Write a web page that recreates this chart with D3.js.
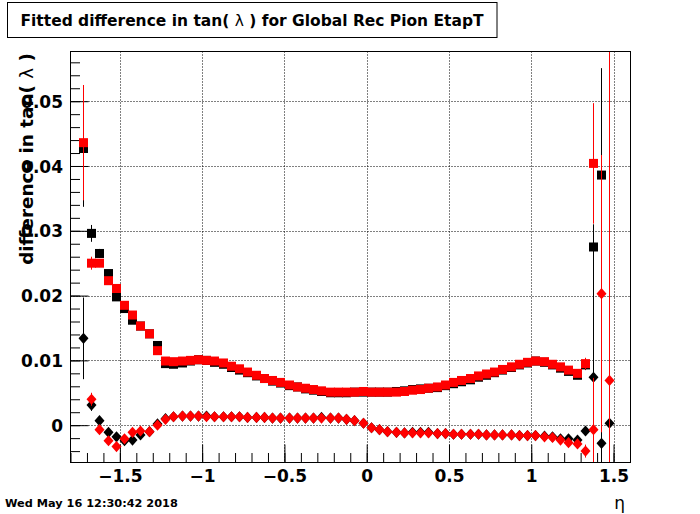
<!DOCTYPE html>
<html>
<head>
<meta charset="utf-8">
<script src="https://cdn.jsdelivr.net/npm/d3@7"></script>
<style>
  body { margin: 0; background: #fff; }
  svg { display: block; }
  text { font-family: "DejaVu Sans", sans-serif; }
</style>
</head>
<body>
<div id="chart"></div>
<script>
// bin centres: 65 bins of width 0.05 between -1.75 and 1.5
const etaBins = [
  -1.725, -1.675, -1.625, -1.575, -1.525, -1.475, -1.425, -1.375, -1.325, -1.275,
  -1.225, -1.175, -1.125, -1.075, -1.025, -0.975, -0.925, -0.875, -0.825, -0.775,
  -0.725, -0.675, -0.625, -0.575, -0.525, -0.475, -0.425, -0.375, -0.325, -0.275,
  -0.225, -0.175, -0.125, -0.075, -0.025, 0.025, 0.075, 0.125, 0.175, 0.225,
  0.275, 0.325, 0.375, 0.425, 0.475, 0.525, 0.575, 0.625, 0.675, 0.725,
  0.775, 0.825, 0.875, 0.925, 0.975, 1.025, 1.075, 1.125, 1.175, 1.225,
  1.275, 1.325, 1.375, 1.425, 1.475
];

const blackSquares = [
  0.0427, 0.0296, 0.0265, 0.0234, 0.0198, 0.0180, 0.0162, 0.0153, 0.0141, 0.0123,
  0.0095, 0.0094, 0.0096, 0.0099, 0.0101, 0.0100, 0.0097, 0.0094, 0.0089, 0.0085,
  0.0081, 0.0076, 0.0072, 0.0068, 0.0065, 0.0061, 0.0059, 0.0056, 0.0054, 0.0052,
  0.0050, 0.0050, 0.0050, 0.0051, 0.0051, 0.0051, 0.0051, 0.0051, 0.0052, 0.0053,
  0.0055, 0.0056, 0.0057, 0.0058, 0.0061, 0.0064, 0.0067, 0.0070, 0.0074, 0.0077,
  0.0081, 0.0085, 0.0089, 0.0093, 0.0096, 0.0099, 0.0097, 0.0093, 0.0088, 0.0083,
  0.0077, 0.0093, 0.0275, 0.0386, null
];
const blackSquaresErr = [
  0.0090, 0.0013, 0.0007, 0.0005, 0.0004, 0.0004, 0.0003, 0.0003, 0.0003, 0.0003,
  0.0003, 0.0003, 0.0003, 0.0003, 0.0003, 0.0003, 0.0003, 0.0003, 0.0003, 0.0003,
  0.0003, 0.0003, 0.0003, 0.0003, 0.0003, 0.0003, 0.0003, 0.0003, 0.0003, 0.0003,
  0.0003, 0.0003, 0.0003, 0.0003, 0.0003, 0.0003, 0.0003, 0.0003, 0.0003, 0.0003,
  0.0003, 0.0003, 0.0003, 0.0003, 0.0003, 0.0003, 0.0003, 0.0003, 0.0003, 0.0003,
  0.0003, 0.0003, 0.0003, 0.0003, 0.0003, 0.0003, 0.0003, 0.0003, 0.0003, 0.0004,
  0.0004, 0.0008, 0.0034, 0.0165, 0
];

const redSquares = [
  0.0436, 0.0250, 0.0250, 0.0223, 0.0211, 0.0185, 0.0170, 0.0153, 0.0141, 0.0115,
  0.0099, 0.0098, 0.0099, 0.0100, 0.0101, 0.0100, 0.0099, 0.0096, 0.0091, 0.0087,
  0.0082, 0.0077, 0.0072, 0.0069, 0.0066, 0.0062, 0.0059, 0.0057, 0.0055, 0.0053,
  0.0051, 0.0051, 0.0051, 0.0051, 0.0052, 0.0051, 0.0051, 0.0051, 0.0051, 0.0052,
  0.0054, 0.0055, 0.0057, 0.0059, 0.0062, 0.0066, 0.0069, 0.0072, 0.0076, 0.0079,
  0.0082, 0.0086, 0.0090, 0.0094, 0.0097, 0.0099, 0.0098, 0.0094, 0.0090, 0.0085,
  0.0080, 0.0095, 0.0404, null, null
];
const redSquaresErr = [
  0.0089, 0.0010, 0.0006, 0.0005, 0.0004, 0.0004, 0.0003, 0.0003, 0.0003, 0.0003,
  0.0003, 0.0003, 0.0003, 0.0003, 0.0003, 0.0003, 0.0003, 0.0003, 0.0003, 0.0003,
  0.0003, 0.0003, 0.0003, 0.0003, 0.0003, 0.0003, 0.0003, 0.0003, 0.0003, 0.0003,
  0.0003, 0.0003, 0.0003, 0.0003, 0.0003, 0.0003, 0.0003, 0.0003, 0.0003, 0.0003,
  0.0003, 0.0003, 0.0003, 0.0003, 0.0003, 0.0003, 0.0003, 0.0003, 0.0003, 0.0003,
  0.0003, 0.0003, 0.0003, 0.0003, 0.0003, 0.0003, 0.0003, 0.0003, 0.0003, 0.0004,
  0.0004, 0.0009, 0.0093, 0, 0
];

const blackDiamonds = [
  0.0134, 0.0031, 0.0007, -0.0011, -0.0018, -0.0024, -0.0023, -0.0015, -0.0010, 0.0002,
  0.0010, 0.0013, 0.0014, 0.0014, 0.0014, 0.0014, 0.0013, 0.0013, 0.0013, 0.0013,
  0.0012, 0.0012, 0.0012, 0.0011, 0.0011, 0.0011, 0.0011, 0.0011, 0.0011, 0.0012,
  0.0011, 0.0011, 0.0009, 0.0007, 0.0003, -0.0004, -0.0007, -0.0010, -0.0011, -0.0012,
  -0.0011, -0.0011, -0.0011, -0.0013, -0.0013, -0.0014, -0.0014, -0.0014, -0.0014, -0.0015,
  -0.0015, -0.0015, -0.0015, -0.0016, -0.0016, -0.0016, -0.0017, -0.0018, -0.0021, -0.0021,
  -0.0023, -0.0009, 0.0074, -0.0028, 0.0003
];
const blackDiamondsErr = [
  0.0063, 0.0009, 0.0004, 0.0003, 0.0003, 0.0003, 0.0002, 0.0002, 0.0002, 0.0002,
  0.0002, 0.0002, 0.0002, 0.0002, 0.0002, 0.0002, 0.0002, 0.0002, 0.0002, 0.0002,
  0.0002, 0.0002, 0.0002, 0.0002, 0.0002, 0.0002, 0.0002, 0.0002, 0.0002, 0.0002,
  0.0002, 0.0002, 0.0002, 0.0002, 0.0002, 0.0002, 0.0002, 0.0002, 0.0002, 0.0002,
  0.0002, 0.0002, 0.0002, 0.0002, 0.0002, 0.0002, 0.0002, 0.0002, 0.0002, 0.0002,
  0.0002, 0.0002, 0.0002, 0.0002, 0.0002, 0.0002, 0.0002, 0.0002, 0.0002, 0.0003,
  0.0003, 0.0005, 0.0236, 0.0060, 0.0015
];

const redDiamonds = [
  null, 0.0040, -0.0007, -0.0024, -0.0033, -0.0021, -0.0011, -0.0009, -0.0010, 0.0000,
  0.0009, 0.0013, 0.0014, 0.0014, 0.0014, 0.0013, 0.0013, 0.0013, 0.0013, 0.0013,
  0.0012, 0.0012, 0.0012, 0.0011, 0.0011, 0.0011, 0.0011, 0.0011, 0.0011, 0.0011,
  0.0011, 0.0011, 0.0009, 0.0007, 0.0003, -0.0004, -0.0007, -0.0010, -0.0011, -0.0012,
  -0.0012, -0.0012, -0.0012, -0.0013, -0.0013, -0.0014, -0.0014, -0.0014, -0.0014, -0.0015,
  -0.0015, -0.0015, -0.0015, -0.0016, -0.0016, -0.0016, -0.0018, -0.0019, -0.0023, -0.0027,
  -0.0029, -0.0040, -0.0007, 0.0203, 0.0069
];
const redDiamondsErr = [
  0, 0.0010, 0.0004, 0.0003, 0.0003, 0.0003, 0.0002, 0.0002, 0.0002, 0.0002,
  0.0002, 0.0002, 0.0002, 0.0002, 0.0002, 0.0002, 0.0002, 0.0002, 0.0002, 0.0002,
  0.0002, 0.0002, 0.0002, 0.0002, 0.0002, 0.0002, 0.0002, 0.0002, 0.0002, 0.0002,
  0.0002, 0.0002, 0.0002, 0.0002, 0.0002, 0.0002, 0.0002, 0.0002, 0.0002, 0.0002,
  0.0002, 0.0002, 0.0002, 0.0002, 0.0002, 0.0002, 0.0002, 0.0002, 0.0002, 0.0002,
  0.0002, 0.0002, 0.0002, 0.0002, 0.0002, 0.0002, 0.0002, 0.0002, 0.0002, 0.0003,
  0.0003, 0.0010, 0.0080, 0.0214, 0.0600
];

const xTicks = [-1.5, -1, -0.5, 0, 0.5, 1, 1.5];
const xTickLabels = ['\u22121.5', '\u22121', '\u22120.5', '0', '0.5', '1', '1.5'];
const yTicks = [0, 0.01, 0.02, 0.03, 0.04, 0.05];
const yTickLabels = ['0', '0.01', '0.02', '0.03', '0.04', '0.05'];

const titleText = 'Fitted difference in tan( ';
const titleText2 = ' ) for Global Rec Pion EtapT';
const dateText = 'Wed May 16 12:30:42 2018';

const W = 700, H = 514;
const fr = {left: 70.5, right: 630.5, top: 51.5, bottom: 462.5};

const x = d3.scaleLinear().domain([-1.8, 1.6]).range([fr.left, fr.right - 0.5]);
const y = d3.scaleLinear().domain([-0.00576, 0.05767]).range([fr.bottom, fr.top]);

const svg = d3.select('#chart').append('svg')
    .attr('width', W)
    .attr('height', H);

svg.append('rect').attr('width', W).attr('height', H).attr('fill', '#fff');

svg.append('defs').append('clipPath').attr('id', 'clip')
    .append('rect')
    .attr('x', fr.left).attr('y', fr.top)
    .attr('width', fr.right - fr.left).attr('height', fr.bottom - fr.top);

// grid
const grid = svg.append('g')
    .attr('stroke', '#000')
    .attr('stroke-width', 1)
    .attr('stroke-dasharray', '1,2');

grid.selectAll('.gx').data(xTicks).enter().append('line')
    .attr('x1', d => Math.round(x(d)) + 0.5).attr('x2', d => Math.round(x(d)) + 0.5)
    .attr('y1', fr.top).attr('y2', fr.bottom);

grid.selectAll('.gy').data(yTicks).enter().append('line')
    .attr('y1', d => Math.round(y(d)) + 0.5).attr('y2', d => Math.round(y(d)) + 0.5)
    .attr('x1', fr.left).attr('x2', fr.right);

// axes, ticks drawn inward like ROOT
const xMinor = d3.range(-18, 17).map(d => d / 10);
const yMinor = d3.range(-2, 29).map(d => d * 0.002);

const xAxisMinor = d3.axisBottom(x).tickValues(xMinor).tickSize(-9.5).tickFormat('');
const xAxisMajor = d3.axisBottom(x).tickValues(xTicks).tickSize(-18)
    .tickFormat((d, i) => xTickLabels[i]).tickPadding(17);
const yAxisMinor = d3.axisLeft(y).tickValues(yMinor).tickSize(-9.5).tickFormat('');
const yAxisMajor = d3.axisLeft(y).tickValues(yTicks).tickSize(-18)
    .tickFormat((d, i) => yTickLabels[i]).tickPadding(7.5);

function styleAxis(g) {
    g.select('.domain').remove();
    g.selectAll('line').attr('stroke', '#000').attr('stroke-width', 1);
    g.selectAll('text')
        .attr('fill', '#000')
        .style('font-family', '"DejaVu Sans", sans-serif')
        .style('font-weight', 'bold')
        .style('font-size', '17px');
}

svg.append('g').attr('transform', `translate(0,${fr.bottom})`).call(xAxisMinor).call(styleAxis);
svg.append('g').attr('transform', `translate(0,${fr.bottom})`).call(xAxisMajor).call(styleAxis)
    .selectAll('text').attr('dy', '0.12em');
svg.append('g').attr('transform', `translate(${fr.left},0)`).call(yAxisMinor).call(styleAxis);
svg.append('g').attr('transform', `translate(${fr.left},0)`).call(yAxisMajor).call(styleAxis)
    .selectAll('text').attr('dy', '0.36em');

// data
const series = [
    {vals: blackSquares, errs: blackSquaresErr, color: '#000', shape: 'square'},
    {vals: redSquares, errs: redSquaresErr, color: '#ff0000', shape: 'square'},
    {vals: blackDiamonds, errs: blackDiamondsErr, color: '#000', shape: 'diamond'},
    {vals: redDiamonds, errs: redDiamondsErr, color: '#ff0000', shape: 'diamond'}
];

const plot = svg.append('g').attr('clip-path', 'url(#clip)');

series.forEach(s => {
    const pts = etaBins.map((e, i) => ({e, v: s.vals[i], err: s.errs[i]}))
        .filter(p => p.v !== null);
    const g = plot.append('g');
    g.selectAll('line').data(pts.filter(p => p.err > 0)).enter().append('line')
        .attr('x1', p => Math.round(x(p.e)) + 0.5).attr('x2', p => Math.round(x(p.e)) + 0.5)
        .attr('y1', p => y(p.v + p.err)).attr('y2', p => y(p.v - p.err))
        .attr('stroke', s.color).attr('stroke-width', 1);
    if (s.shape === 'square') {
        g.selectAll('rect').data(pts).enter().append('rect')
            .attr('x', p => Math.round(x(p.e)) + 0.5 - 4.5)
            .attr('y', p => y(p.v) - 4.5)
            .attr('width', 9).attr('height', 9)
            .attr('fill', s.color);
    } else {
        g.selectAll('path').data(pts).enter().append('path')
            .attr('d', p => {
                const cx = Math.round(x(p.e)) + 0.5, cy = y(p.v);
                return `M${cx},${cy - 5.6}L${cx + 5},${cy}L${cx},${cy + 5.6}L${cx - 5},${cy}Z`;
            })
            .attr('fill', s.color);
    }
});

// frame
svg.append('rect')
    .attr('x', fr.left).attr('y', fr.top)
    .attr('width', fr.right - fr.left).attr('height', fr.bottom - fr.top)
    .attr('fill', 'none').attr('stroke', '#000').attr('stroke-width', 1);

// title box
svg.append('rect')
    .attr('x', 7.5).attr('y', 2.5).attr('width', 489.5).attr('height', 35)
    .attr('fill', '#fff').attr('stroke', '#000').attr('stroke-width', 1);
const title = svg.append('text')
    .attr('x', 20.5).attr('y', 26)
    .style('font-weight', 'bold').style('font-size', '16.5px')
    .attr('fill', '#000');
title.append('tspan').text(titleText);
title.append('tspan').style('font-weight', 'normal').text('\u03bb');
title.append('tspan').text(titleText2);
// squeeze the title to the width it has in the picture
const tw = title.node().getComputedTextLength();
if (tw > 0) title.style('font-size', (16.5 * 463 / tw).toFixed(2) + 'px');

// y axis title
svg.append('text')
    .attr('transform', 'translate(33,53) rotate(-90)')
    .attr('text-anchor', 'end')
    .style('font-weight', 'bold').style('font-size', '18.4px')
    .attr('fill', '#000')
    .call(t => {
        t.append('tspan').text('difference in tan( ');
        t.append('tspan').style('font-weight', 'normal').text('\u03bb');
        t.append('tspan').text(' )');
    });

// x axis title
svg.append('text')
    .attr('x', 625).attr('y', 509)
    .attr('text-anchor', 'end')
    .style('font-size', '17px')
    .attr('fill', '#000')
    .text('\u03b7');

// date stamp
svg.append('text')
    .attr('x', 5).attr('y', 507)
    .style('font-weight', 'bold').style('font-size', '11.3px')
    .attr('fill', '#000')
    .text(dateText);
</script>
</body>
</html>
